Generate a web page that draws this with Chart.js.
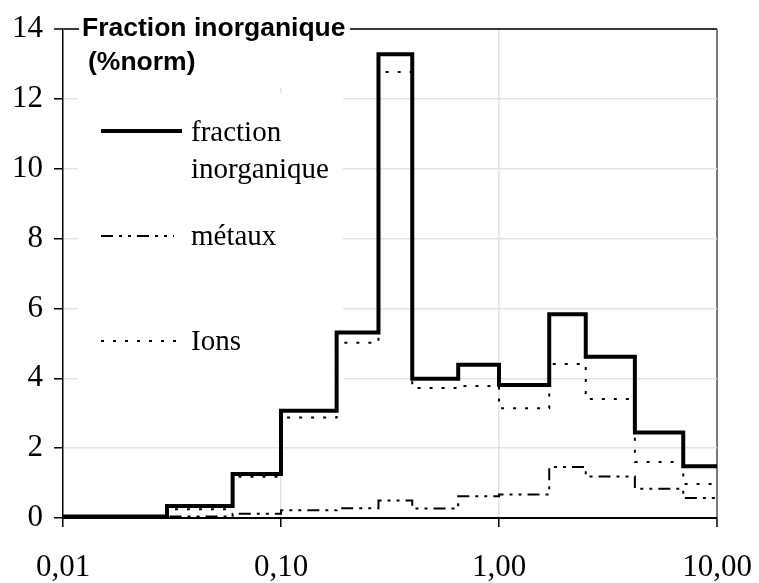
<!DOCTYPE html>
<html lang="fr">
<head>
<meta charset="utf-8">
<title>Fraction inorganique (%norm)</title>
<script src="https://cdn.jsdelivr.net/npm/chart.js@4/dist/chart.umd.min.js"></script>
<style>
  html, body { margin: 0; padding: 0; background: #fff; }
  #wrap { width: 759px; height: 583px; position: relative; }
</style>
</head>
<body>
<div id="wrap"><canvas id="c"></canvas></div>
<script>
// Bornes des classes granulométriques (µm)
const bornes = [0.01, 0.03, 0.06, 0.1, 0.18, 0.28, 0.4, 0.65, 1.0, 1.7, 2.5, 4.2, 7, 10];

// Valeurs par classe (%norm)
const fractionInorganique = [0.04, 0.34, 1.26, 3.07, 5.31, 13.28, 3.99, 4.39, 3.81, 5.83, 4.62, 2.45, 1.48];
const metaux              = [0.0, 0.04, 0.12, 0.22, 0.28, 0.5, 0.27, 0.62, 0.67, 1.46, 1.19, 0.84, 0.57];
const ions                = [0.02, 0.25, 1.18, 2.88, 5.02, 12.77, 3.72, 3.78, 3.14, 4.41, 3.41, 1.6, 0.97];

// Graduations
const xTicks = [0.01, 0.1, 1, 10];
const xTickLabels = ['0,01', '0,10', '1,00', '10,00'];
const yTicks = [0, 2, 4, 6, 8, 10, 12, 14];

const titre = ['Fraction inorganique', '(%norm)'];
const legende = [
  { lignes: ['fraction', 'inorganique'], dash: [], width: 4 },
  { lignes: ['métaux'], dash: [12, 6, 3, 6, 3, 6], width: 2 },
  { lignes: ['Ions'], dash: [3, 9], width: 2 }
];

// Histogramme en escalier : un point au début de chaque classe + la borne finale
function escalier(valeurs) {
  const pts = valeurs.map((v, i) => ({ x: bornes[i], y: v }));
  pts.push({ x: bornes[bornes.length - 1], y: valeurs[valeurs.length - 1] });
  return pts;
}

const SERIF = '"Liberation Serif", "Times New Roman", serif';
const SANS = '"Liberation Sans", Arial, sans-serif';

const decor = {
  id: 'decor',
  beforeDatasetsDraw(chart) {
    // fond blanc du cartouche de légende
    const ctx = chart.ctx;
    ctx.save();
    ctx.fillStyle = '#fff';
    ctx.fillRect(78, 93, 265, 325);
    ctx.restore();
  },
  afterDraw(chart) {
    const ctx = chart.ctx;
    ctx.save();
    // titre posé sur le cadre supérieur
    ctx.fillStyle = '#fff';
    ctx.fillRect(79, 12, 271, 76);
    ctx.fillStyle = '#000';
    ctx.font = 'bold 26.5px ' + SANS;
    ctx.textBaseline = 'alphabetic';
    ctx.fillText(titre[0], 82, 36);
    ctx.fillText(titre[1], 88, 70);

    // légende
    const ys = [131, 236, 341];
    const bases = [[141, 178], [245], [350]];
    const fins = [182, 174, 177];
    legende.forEach((item, i) => {
      ctx.beginPath();
      ctx.setLineDash(item.dash);
      ctx.lineWidth = item.width;
      ctx.strokeStyle = '#000';
      ctx.lineCap = 'butt';
      ctx.moveTo(101, ys[i]);
      ctx.lineTo(fins[i], ys[i]);
      ctx.stroke();
      ctx.setLineDash([]);
      ctx.font = '29px ' + SERIF;
      item.lignes.forEach((t, j) => ctx.fillText(t, 191, bases[i][j]));
    });
    ctx.restore();
  }
};

new Chart(document.getElementById('c'), {
  type: 'line',
  data: {
    datasets: [
      {
        label: 'fraction inorganique',
        data: escalier(fractionInorganique),
        borderColor: '#000', borderWidth: 4, stepped: true,
        pointRadius: 0, borderJoinStyle: 'miter', borderCapStyle: 'butt'
      },
      {
        label: 'métaux',
        data: escalier(metaux),
        borderColor: '#000', borderWidth: 2, stepped: true,
        borderDash: [12, 6, 3, 6, 3, 6],
        pointRadius: 0, borderCapStyle: 'butt'
      },
      {
        label: 'Ions',
        data: escalier(ions),
        borderColor: '#000', borderWidth: 2, stepped: true,
        borderDash: [3, 9],
        pointRadius: 0, borderCapStyle: 'butt'
      }
    ]
  },
  options: {
    responsive: true,
    maintainAspectRatio: false,
    animation: false,
    events: [],
    layout: { padding: { top: 29, right: 42, left: 0, bottom: 0 } },
    plugins: { legend: { display: false }, tooltip: { enabled: false }, title: { display: false } },
    scales: {
      x: {
        type: 'logarithmic',
        min: 0.01, max: 10,
        afterBuildTicks: s => { s.ticks = xTicks.map(v => ({ value: v })); },
        afterFit: s => { s.height = 65; s.paddingLeft = 0; s.paddingRight = 0; },
        ticks: {
          autoSkip: false, maxRotation: 0, padding: 22,
          color: '#000',
          font: { family: SERIF, size: 31 },
          callback: (v) => {
            const i = xTicks.findIndex(t => Math.abs(t - v) < 1e-9);
            return i >= 0 ? xTickLabels[i] : '';
          }
        },
        grid: {
          tickLength: 9,
          tickColor: '#000',
          tickWidth: 1.5,
          color: c => {
            const v = c.tick && c.tick.value;
            if (Math.abs(v - 10) < 1e-9) return '#7a7a7a';
            if (Math.abs(v - 0.01) < 1e-9) return 'rgba(0,0,0,0)';
            return '#e3e3e3';
          },
          lineWidth: c => (c.tick && Math.abs(c.tick.value - 10) < 1e-9) ? 2 : 1.5
        },
        border: { color: '#000', width: 2 }
      },
      y: {
        min: 0, max: 14,
        afterBuildTicks: s => { s.ticks = yTicks.map(v => ({ value: v })); },
        afterFit: s => { s.width = 63; s.paddingTop = 0; s.paddingBottom = 0; },
        ticks: {
          padding: 11,
          color: '#000',
          font: { family: SERIF, size: 31 }
        },
        grid: {
          tickLength: 9,
          tickColor: '#000',
          tickWidth: 1.5,
          color: c => {
            const v = c.tick && c.tick.value;
            if (v === 14) return '#3a3a3a';
            if (v === 0) return 'rgba(0,0,0,0)';
            return '#e3e3e3';
          },
          lineWidth: c => (c.tick && c.tick.value === 14) ? 2 : 1.5
        },
        border: { color: '#000', width: 1.5 }
      }
    }
  },
  plugins: [decor]
});
</script>
</body>
</html>
